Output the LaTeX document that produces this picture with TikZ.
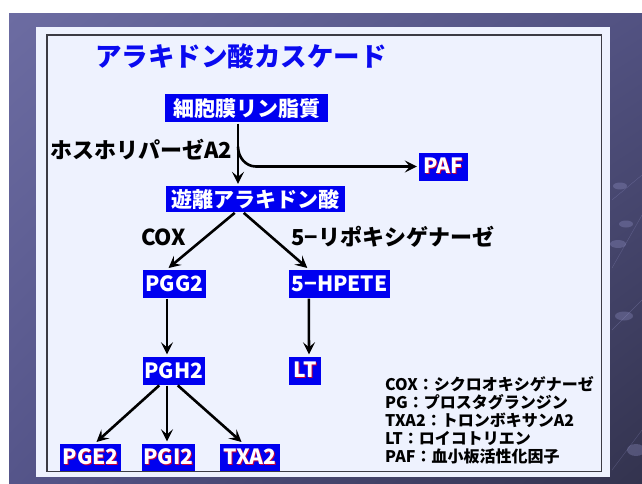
\documentclass[tikz,border=0pt]{standalone}
\usepackage{fontspec}
\setmainfont{Noto Sans CJK JP}
\usetikzlibrary{arrows.meta,calc,shadings}
\definecolor{bgUL}{HTML}{6C6CA2}
\definecolor{bgUR}{HTML}{525282}
\definecolor{bgLL}{HTML}{55558A}
\definecolor{bgLR}{HTML}{33334E}
\definecolor{panel}{HTML}{EEF2FE}
\definecolor{frame}{HTML}{3C3C44}
\definecolor{boxblue}{HTML}{0000F0}
\definecolor{titleblue}{HTML}{0A0AF0}
\definecolor{glowred}{HTML}{C8003C}
\definecolor{deco}{HTML}{9A9AD0}
\newcommand\glowtxt[1]{\makebox[0pt][l]{\hspace{1pt}\raisebox{-1pt}{\color{glowred}#1}}#1}
\begin{document}
\begin{tikzpicture}[x=1pt,y=-1pt,
  box/.style={fill=boxblue,text=white,font=\fontsize{21}{24}\selectfont\bfseries,
    inner sep=0pt,minimum height=28pt},
  lbl/.style={text=black,font=\fontsize{22}{24}\selectfont\bfseries,inner sep=0pt,anchor=west},
  arr/.style={draw=black,line width=2.6pt,-{Stealth[length=12pt,width=12pt,inset=5pt]},shorten >=2pt,shorten <=1pt}]
\useasboundingbox (0,0) rectangle (642,484);
\fill[white] (0,0) rectangle (642,484);
\shade[upper left=bgUL,upper right=bgUR,lower left=bgLL,lower right=bgLR] (9,14) rectangle (642,484);
% faint decoration
\begin{scope}[opacity=0.3]
\draw[deco,line width=0.4pt] (612,200) -- (642,175) (612,268) -- (642,215) (612,330) -- (642,300) (612,470) -- (642,430);
\fill[deco] (620,186) ellipse (7pt and 3.5pt);
\fill[deco] (626,224) ellipse (7pt and 3.5pt);
\fill[deco] (618,244) ellipse (8pt and 4pt);
\fill[deco] (624,316) ellipse (9pt and 4.5pt);
\fill[deco] (636,450) ellipse (9pt and 6pt);
\end{scope}
\fill[panel] (36,27) rectangle (610,477);
\draw[frame,line width=1.6pt] (47,35) rectangle (601.5,471.5);
% title
\node[anchor=west,inner sep=0pt,text=titleblue,font=\fontsize{26.5}{30}\selectfont\bfseries] (title) at (95,56) {アラキドン酸カスケード};
% boxes
\node[box,minimum width=163pt] (cell) at (246.5,108.5) {細胞膜リン脂質};
\node[box,minimum width=49pt] (paf) at (443.5,166.5) {\glowtxt{PAF}};
\node[box,minimum width=179pt,minimum height=26pt] (free) at (255.5,199) {遊離アラキドン酸};
\node[box,minimum width=63pt] (pgg) at (174.5,283.5) {PGG2};
\node[box,minimum width=101pt] (hpete) at (339.5,283.5) {5−HPETE};
\node[box,minimum width=62pt] (pgh) at (174,370.5) {PGH2};
\node[box,minimum width=32pt] (lt) at (305,370.5) {\glowtxt{LT}};
\node[box,minimum width=61pt,minimum height=27pt] (pge) at (90.5,457) {\glowtxt{PGE2}};
\node[box,minimum width=53pt,minimum height=27pt] (pgi) at (168.5,457) {\glowtxt{PGI2}};
\node[box,minimum width=60pt,minimum height=27pt] (txa) at (250,457) {\glowtxt{TXA2}};
% labels
\node[lbl] (pla) at (50,150) {ホスホリパーゼA2};
\node[lbl] (cox) at (141,237) {COX};
\node[lbl] (lox) at (291,237) {5−リポキシゲナーゼ};
% legend
\node[anchor=north west,align=left,inner sep=0pt,text=black,font=\fontsize{16}{18.1}\selectfont\bfseries] (legend) at (385,376)
  {COX：シクロオキシゲナーゼ\\PG：プロスタグランジン\\TXA2：トロンボキサンA2\\LT：ロイコトリエン\\PAF：血小板活性化因子};
% connectors
\coordinate (c1) at ($(cell.south)+(-8.5,0)$);
\coordinate (br) at ($(c1)+(0,24)$);
\draw[arr] (c1) -- ($(free.north)+(-17.5,0)$);
\draw[arr,shorten <=0pt] (br) to[out=-90,in=180] ($(br |- paf.west)+(18,0)$) -- (paf.west);
\draw[arr] ($(free.south)+(-20,0)$) -- ($(pgg.north)+(-7.5,0)$);
\draw[arr] ($(free.south)+(-12.5,0)$) -- ($(hpete.north west)+(20,0)$);
\draw[arr] ($(pgg.south)+(-7.5,0)$) -- ($(pgh.north)+(-7,0)$);
\draw[arr] ($(hpete.south west)+(20,0)$) -- ($(lt.north)+(4,0)$);
\draw[arr] ($(pgh.south)+(-14,0)$) -- ($(pge.north)+(4.5,0)$);
\draw[arr] ($(pgh.south)+(-7,0)$) -- ($(pgi.north)+(-1.5,0)$);
\draw[arr] ($(pgh.south)+(3,0)$) -- ($(txa.north)+(-7,0)$);
\end{tikzpicture}
\end{document}
